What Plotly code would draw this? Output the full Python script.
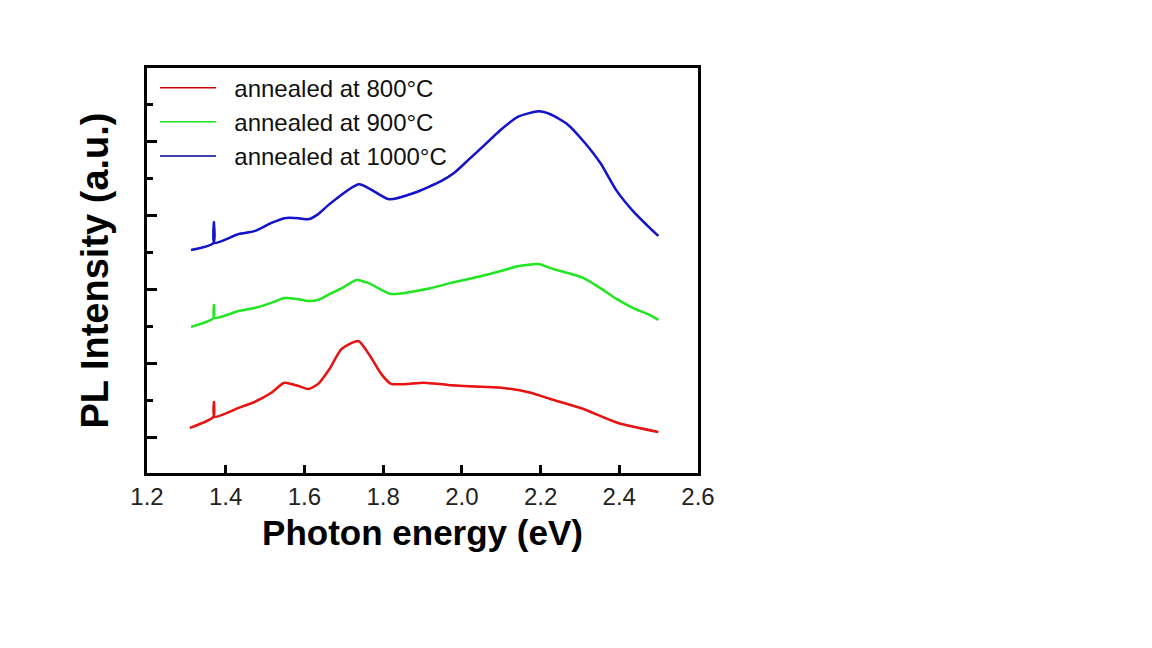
import plotly.graph_objects as go

# ---- data (photon energy in eV, intensity in arbitrary offset units) ----
red_x = [1.309, 1.369, 1.370, 1.371, 1.433, 1.473, 1.516, 1.549, 1.585, 1.610, 1.635, 1.664,
         1.694, 1.737, 1.770, 1.795, 1.820, 1.904, 1.965, 2.048, 2.106, 2.175, 2.225, 2.309, 2.395, 2.499]
red_y = [1.27, 1.57, 1.97, 1.57, 1.81, 1.97, 2.22, 2.49, 2.40, 2.32, 2.46, 2.87,
         3.40, 3.62, 3.16, 2.73, 2.46, 2.49, 2.43, 2.38, 2.35, 2.22, 2.05, 1.78, 1.41, 1.16]

green_x = [1.312, 1.369, 1.370, 1.371, 1.433, 1.473, 1.516, 1.549, 1.585, 1.610, 1.635, 1.666, 1.694,
           1.732, 1.762, 1.820, 1.922, 1.972, 2.048, 2.099, 2.142, 2.195, 2.225, 2.268, 2.309, 2.352,
           2.394, 2.435, 2.478, 2.499]
green_y = [4.00, 4.24, 4.59, 4.24, 4.43, 4.51, 4.65, 4.78, 4.75, 4.70, 4.73, 4.90, 5.04,
           5.27, 5.19, 4.89, 5.05, 5.19, 5.37, 5.51, 5.64, 5.70, 5.59, 5.46, 5.32, 5.05,
           4.75, 4.51, 4.32, 4.19]

blue_x = [1.312, 1.369, 1.370, 1.371, 1.433, 1.473, 1.516, 1.549, 1.585, 1.610, 1.635, 1.666,
          1.739, 1.815, 1.878, 1.947, 1.980, 2.020, 2.056, 2.099, 2.142, 2.195, 2.225, 2.268,
          2.309, 2.352, 2.394, 2.435, 2.478, 2.499]
blue_y = [6.08, 6.27, 6.83, 6.27, 6.51, 6.59, 6.81, 6.94, 6.94, 6.91, 7.05, 7.34,
          7.86, 7.45, 7.62, 7.94, 8.16, 8.55, 8.90, 9.33, 9.68, 9.83, 9.75, 9.48,
          9.02, 8.43, 7.67, 7.13, 6.67, 6.46]

series_names = ["annealed at 800°C", "annealed at 900°C", "annealed at 1000°C"]
x_ticks = [1.2, 1.4, 1.6, 1.8, 2.0, 2.2, 2.4, 2.6]
x_tick_labels = ["1.2", "1.4", "1.6", "1.8", "2.0", "2.2", "2.4", "2.6"]
y_major = [1, 3, 5, 7, 9]
y_minor = [2, 4, 6, 8, 10]

curve_colors = ["#e81414", "#22e622", "#1414cc"]
legend_colors = ["#d00000", "#1ee01e", "#000099"]

all_x = [red_x, green_x, blue_x]
all_y = [red_y, green_y, blue_y]

fig = go.Figure()
# thin legend-style lines (hidden beneath the thick curves) carry the legend entries
for xs, ys, name, c in zip(all_x, all_y, series_names, legend_colors):
    fig.add_trace(go.Scatter(x=xs, y=ys, mode="lines", name="\u00a0\u00a0" + name,
                             line=dict(color=c, width=1.5, shape="spline", smoothing=0.6)))
for xs, ys, c in zip(all_x, all_y, curve_colors):
    fig.add_trace(go.Scatter(x=xs, y=ys, mode="lines", showlegend=False, hoverinfo="skip",
                             line=dict(color=c, width=2.5, shape="spline", smoothing=0.6)))

font_family = "Liberation Sans, Arial, sans-serif"
fig.update_layout(
    width=1152, height=648,
    margin=dict(l=139, r=462, t=60, b=183),
    paper_bgcolor="white", plot_bgcolor="white",
    font=dict(family=font_family, color="#111111"),
    showlegend=True,
    legend=dict(x=0.0145, y=1.006, xanchor="left", yanchor="top",
                bgcolor="rgba(0,0,0,0)", borderwidth=0,
                font=dict(size=24, family=font_family, color="#111111"),
                itemwidth=56, tracegroupgap=0),
    xaxis=dict(range=[1.2, 2.6], tickvals=x_ticks, ticktext=x_tick_labels,
               ticks="inside", ticklen=8, tickwidth=2.5, tickcolor="black",
               showline=True, linewidth=3, linecolor="black", mirror=True,
               showgrid=False, zeroline=False,
               tickfont=dict(size=24, color="#222222"),
               title=dict(text="<b>Photon energy (eV)</b>", font=dict(size=35, color="black"),
                          standoff=12)),
    yaxis=dict(range=[0.05, 11.0], tickvals=y_major, showticklabels=False,
               ticks="inside", ticklen=10, tickwidth=2.5, tickcolor="black",
               minor=dict(tickvals=y_minor, ticks="inside", ticklen=6, tickwidth=2.5, tickcolor="black"),
               showline=True, linewidth=3, linecolor="black", mirror=True,
               showgrid=False, zeroline=False,
               title=dict(text="<b>PL Intensity (a.u.)</b>", font=dict(size=38, color="black"),
                          standoff=24)),
)

fig.write_html("out.html")
